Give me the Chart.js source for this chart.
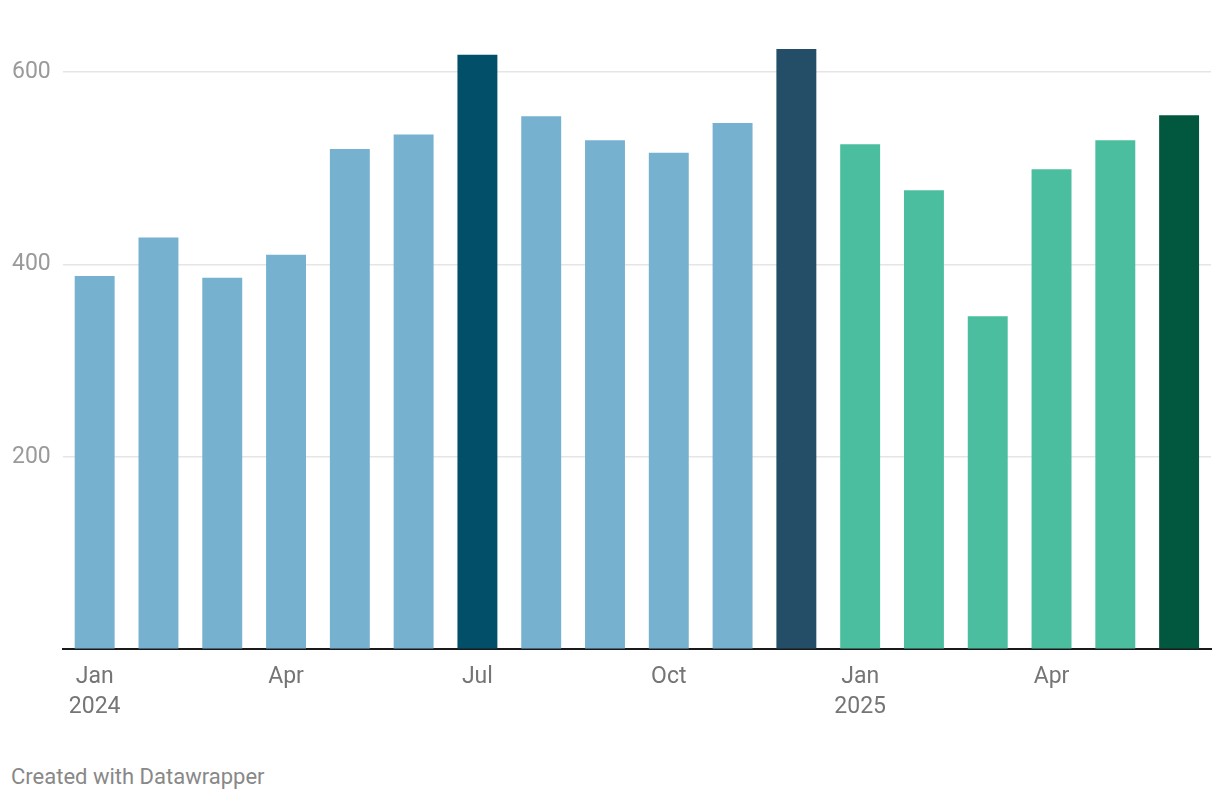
<!DOCTYPE html>
<html>
<head>
<meta charset="utf-8">
<script src="https://cdn.jsdelivr.net/npm/chart.js@4"></script>
<style>
  body { margin: 0; background: #fff; font-family: Roboto, sans-serif; }
  #wrap { position: relative; width: 1220px; height: 727px; }
  #credit { position: absolute; left: 11px; top: 764px; font-size: 22px; color: #888; }
</style>
</head>
<body>
<div id="wrap"><canvas id="grafico"></canvas></div>
<div id="credit">Created with Datawrapper</div>
<script>
const meses = ["Jan", "Feb", "Mar", "Apr", "May", "Jun", "Jul", "Aug", "Sep", "Oct", "Nov", "Dec",
               "Jan", "Feb", "Mar", "Apr", "May", "Jun"];
const anos = ["2024", "", "", "", "", "", "", "", "", "", "", "", "2025", "", "", "", "", ""];
const valores = [388, 428, 386, 410, 520, 535, 618, 554, 529, 516, 547, 624,
                 525, 477, 346, 499, 529, 555];
const mesesVisiveis = ["Jan", "Apr", "Jul", "Oct"];
const yTicks = [0, 200, 400, 600];

const cores = valores.map((v, i) => {
  if (i === 6) return "#014f69";
  if (i === 11) return "#244d68";
  if (i === 17) return "#02573f";
  return i < 12 ? "#76b2cf" : "#4bbe9f";
});

const ctx = document.getElementById("grafico").getContext("2d");
new Chart(ctx, {
  type: "bar",
  data: {
    labels: meses,
    datasets: [{
      data: valores,
      backgroundColor: cores,
      barPercentage: 0.626,
      categoryPercentage: 1
    }]
  },
  options: {
    responsive: true,
    maintainAspectRatio: false,
    animation: false,
    layout: { padding: { left: 0, right: 9, top: 0, bottom: 0 } },
    plugins: { legend: { display: false }, tooltip: { enabled: false } },
    scales: {
      x: {
        grid: { display: false },
        border: { color: "#1a1a1a", width: 2 },
        ticks: {
          autoSkip: false,
          maxRotation: 0,
          padding: 5,
          color: "#757575",
          font: { family: "Roboto", size: 23, lineHeight: 1.3 },
          callback: (val, i) => {
            const m = meses[i];
            if (!mesesVisiveis.includes(m)) return "";
            return anos[i] ? [m, anos[i]] : m;
          }
        }
      },
      y: {
        min: 0,
        max: 648,
        afterBuildTicks: (scale) => {
          scale.ticks = yTicks.map(v => ({ value: v }));
        },
        border: { display: false },
        grid: {
          drawTicks: false,
          color: (c) => c.tick && c.tick.value === 0 ? "rgba(0,0,0,0)" : "#e5e5e5",
          lineWidth: 1.5
        },
        ticks: {
          padding: 12,
          color: "#9a9a9a",
          font: { family: "Roboto", size: 23 },
          callback: (v) => v === 0 ? "" : v
        }
      }
    }
  }
});
</script>
</body>
</html>
